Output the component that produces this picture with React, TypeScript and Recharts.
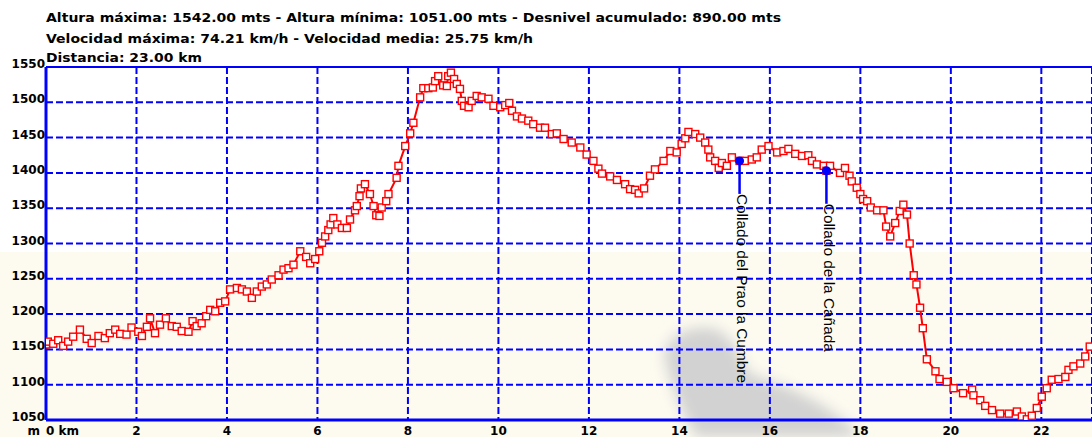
import React from 'react';
import { ComposedChart, Line, Scatter, XAxis, YAxis, CartesianGrid, ReferenceLine } from 'recharts';

// ---- data ----
const distanceKm = [
  0.0, 0.04, 0.16, 0.27, 0.38, 0.49, 0.6, 0.75, 0.9, 1.01,
  1.16, 1.3, 1.41, 1.53, 1.64, 1.78, 1.89, 2.04, 2.12, 2.23,
  2.3, 2.41, 2.52, 2.65, 2.78, 2.89, 3.0, 3.15, 3.24, 3.33,
  3.44, 3.54, 3.63, 3.74, 3.85, 3.96, 4.07, 4.22, 4.33, 4.44,
  4.55, 4.66, 4.77, 4.88, 4.99, 5.14, 5.25, 5.36, 5.47, 5.62,
  5.75, 5.84, 5.95, 6.04, 6.1, 6.17, 6.24, 6.29, 6.35, 6.44,
  6.54, 6.65, 6.72, 6.83, 6.87, 6.93, 6.96, 7.05, 7.16, 7.24,
  7.3, 7.37, 7.42, 7.52, 7.57, 7.75, 7.79, 7.94, 8.05, 8.12,
  8.27, 8.34, 8.45, 8.55, 8.6, 8.67, 8.78, 8.86, 8.89, 8.95,
  9.02, 9.08, 9.15, 9.19, 9.24, 9.34, 9.41, 9.52, 9.63, 9.78,
  9.89, 10.04, 10.15, 10.24, 10.3, 10.41, 10.52, 10.66, 10.77, 10.92,
  11.03, 11.18, 11.29, 11.44, 11.62, 11.81, 11.95, 12.1, 12.21, 12.29,
  12.47, 12.62, 12.8, 12.91, 13.02, 13.1, 13.22, 13.35, 13.46, 13.65,
  13.8, 13.94, 14.05, 14.13, 14.2, 14.35, 14.46, 14.57, 14.64, 14.68,
  14.79, 14.87, 14.94, 15.05, 15.16, 15.33, 15.45, 15.6, 15.71, 15.82,
  15.97, 16.16, 16.3, 16.41, 16.56, 16.71, 16.85, 16.93, 17.04, 17.19,
  17.25, 17.33, 17.55, 17.66, 17.76, 17.81, 17.92, 18.0, 18.06, 18.15,
  18.23, 18.37, 18.51, 18.57, 18.66, 18.77, 18.87, 18.95, 19.03, 19.09,
  19.18, 19.24, 19.32, 19.38, 19.47, 19.66, 19.75, 19.91, 20.06, 20.27,
  20.47, 20.5, 20.65, 20.76, 20.91, 21.09, 21.28, 21.46, 21.57, 21.68,
  21.79, 21.9, 22.01, 22.12, 22.23, 22.38, 22.53, 22.6, 22.71, 22.86,
  22.97, 23.07,
];

const altitudeM = [
  1157, 1161, 1158, 1163, 1155, 1161, 1168, 1178, 1165, 1159,
  1169, 1166, 1173, 1178, 1172, 1171, 1181, 1175, 1169, 1182,
  1194, 1173, 1185, 1194, 1183, 1182, 1176, 1175, 1190, 1183,
  1187, 1197, 1206, 1204, 1216, 1218, 1235, 1237, 1235, 1232,
  1223, 1232, 1239, 1242, 1249, 1255, 1263, 1265, 1270, 1289,
  1281, 1272, 1278, 1289, 1301, 1310, 1319, 1327, 1336, 1327,
  1322, 1322, 1334, 1347, 1353, 1367, 1378, 1384, 1370, 1353,
  1340, 1339, 1351, 1360, 1370, 1393, 1410, 1438, 1456, 1471,
  1507, 1520, 1520, 1521, 1530, 1537, 1524, 1523, 1537, 1542,
  1533, 1526, 1519, 1502, 1495, 1493, 1502, 1509, 1507, 1505,
  1495, 1493, 1496, 1499, 1488, 1480, 1477, 1474, 1469, 1464,
  1464, 1455, 1456, 1448, 1443, 1436, 1426, 1417, 1406, 1399,
  1395, 1390, 1384, 1377, 1376, 1371, 1378, 1396, 1405, 1417,
  1431, 1429, 1441, 1449, 1458, 1455, 1450, 1443, 1433, 1422,
  1417, 1407, 1414, 1410, 1422, 1417, 1417, 1419, 1422, 1433,
  1438, 1429, 1431, 1434, 1427, 1424, 1425, 1417, 1412, 1410,
  1403, 1410, 1400, 1407, 1396, 1388, 1379, 1370, 1363, 1360,
  1351, 1347, 1347, 1324, 1310, 1329, 1346, 1355, 1341, 1300,
  1255, 1242, 1209, 1180, 1136, 1119, 1108, 1104, 1095, 1088,
  1093, 1085, 1078, 1070, 1064, 1059, 1059, 1062, 1055, 1051,
  1056, 1067, 1083, 1095, 1107, 1108, 1111, 1121, 1126, 1130,
  1140, 1154,
];

const xTicks = [0, 2, 4, 6, 8, 10, 12, 14, 16, 18, 20, 22];
const yTicks = [1050, 1100, 1150, 1200, 1250, 1300, 1350, 1400, 1450, 1500, 1550];

const waypointNames = ['Collado del Prao la Cumbre', 'Collado de la Cañada'];
const waypointKm = [15.33, 17.25];
const waypointAlt = [1417, 1403];

const headerLines = [
  'Altura máxima: 1542.00 mts - Altura mínima: 1051.00 mts - Desnivel acumulado: 890.00 mts',
  'Velocidad máxima: 74.21 km/h - Velocidad media: 25.75 km/h',
  'Distancia: 23.00 km',
];
const headerWidths = [735, 487, 156];
const headerBaselines = [22, 43, 62];

const profile = distanceKm.map((d, i) => ({ d, alt: altitudeM[i] }));
const waypoints = waypointNames.map((name, i) => ({ d: waypointKm[i], alt: waypointAlt[i], name }));

const BLUE = '#0000ff';
const RED = '#ff0000';
const LABEL_FONT = "'DejaVu Sans', Verdana, sans-serif";

const W = 1092;
const H = 437;

function SquareDot(props: any) {
  const { cx, cy, index } = props;
  if (cx == null || cy == null) return null;
  return (
    <rect key={`sq-${index}`} x={cx - 3.5} y={cy - 3.5} width={7} height={7} fill="#ffffff" stroke={RED} strokeWidth={1.4} />
  );
}

function WaypointShape(props: any) {
  const { cx, cy, payload } = props;
  if (cx == null || cy == null) return null;
  const tx = cx - 2.5;
  const ty = cy + 33;
  return (
    <g>
      <line x1={cx} y1={cy} x2={cx} y2={ty} stroke={BLUE} strokeWidth={2.5} />
      <circle cx={cx} cy={cy} r={4.5} fill={BLUE} />
      <text
        x={tx}
        y={ty}
        transform={`rotate(90 ${tx} ${ty})`}
        fontFamily="'Liberation Sans', Arial, sans-serif"
        fontSize={15.4}
        fill="#000"
      >
        {payload.name}
      </text>
    </g>
  );
}

function YTick(props: any) {
  const { x, y, payload } = props;
  return (
    <text x={x} y={y + 1} textAnchor="end" fontFamily={LABEL_FONT} fontWeight="bold" fontSize={12} fill="#000">
      {payload.value}
    </text>
  );
}

function XTick(props: any) {
  const { x, y, payload } = props;
  const base = y + 15;
  if (payload.value === 0) {
    return (
      <g>
        <text x={x - 6} y={base} textAnchor="end" fontFamily={LABEL_FONT} fontWeight="bold" fontSize={12} fill="#000">m</text>
        <text x={x} y={base} textAnchor="start" fontFamily={LABEL_FONT} fontWeight="bold" fontSize={12} fill="#000">0 km</text>
      </g>
    );
  }
  return (
    <text x={x} y={base} textAnchor="middle" fontFamily={LABEL_FONT} fontWeight="bold" fontSize={12} fill="#000">
      {payload.value}
    </text>
  );
}

export default function App() {
  return (
    <div style={{ position: 'absolute', left: 0, top: 0, width: W, height: H, overflow: 'hidden', background: '#ffffff' }}>
      <svg width={W} height={H} style={{ position: 'absolute', left: 0, top: 0 }}>
        <defs>
          <filter id="wmblur" x="-30%" y="-30%" width="160%" height="160%">
            <feGaussianBlur stdDeviation="7" />
          </filter>
        </defs>
        <rect x={0} y={252} width={W} height={H - 252} fill="#fdfbf0" />
        <path
          d="M664,356 C666,334 696,322 718,330 C734,338 740,358 750,374 C790,386 830,404 862,437 L696,437 C686,420 672,392 664,356 Z"
          fill="#d2d2d2"
          filter="url(#wmblur)"
        />
      </svg>
      <div style={{ position: 'absolute', left: 0, top: 0 }}>
        <ComposedChart width={W} height={H} margin={{ top: 67, right: 0, bottom: 0, left: 0 }}>
          <CartesianGrid stroke={BLUE} strokeWidth={2} strokeDasharray="7 3" />
          <XAxis
            type="number"
            dataKey="d"
            domain={[0, 23.12]}
            ticks={xTicks}
            allowDataOverflow
            height={17}
            tickSize={0}
            tickMargin={0}
            tickLine={false}
            axisLine={{ stroke: BLUE, strokeWidth: 3 }}
            tick={<XTick />}
            interval={0}
          />
          <YAxis
            type="number"
            dataKey="alt"
            domain={[1050, 1550]}
            ticks={yTicks}
            allowDataOverflow
            width={46}
            tickSize={0}
            tickMargin={1}
            tickLine={false}
            axisLine={{ stroke: BLUE, strokeWidth: 3 }}
            tick={<YTick />}
            interval={0}
          />
          <ReferenceLine y={1550} stroke={BLUE} strokeWidth={2} />
          <Line
            data={profile}
            dataKey="alt"
            type="linear"
            stroke={RED}
            strokeWidth={2}
            dot={(p: any) => <SquareDot key={`d-${p.index}`} {...p} />}
            activeDot={false}
            isAnimationActive={false}
          />
          <Scatter data={waypoints} dataKey="alt" shape={(p: any) => <WaypointShape {...p} />} isAnimationActive={false} />
        </ComposedChart>
      </div>
      <svg width={W} height={70} style={{ position: 'absolute', left: 0, top: 0 }}>
        {headerLines.map((t, i) => (
          <text
            key={i}
            x={46}
            y={headerBaselines[i]}
            fontFamily={LABEL_FONT}
            fontWeight="bold"
            fontSize={12.5}
            fill="#000"
            textLength={headerWidths[i]}
            lengthAdjust="spacingAndGlyphs"
          >
            {t}
          </text>
        ))}
      </svg>
    </div>
  );
}
